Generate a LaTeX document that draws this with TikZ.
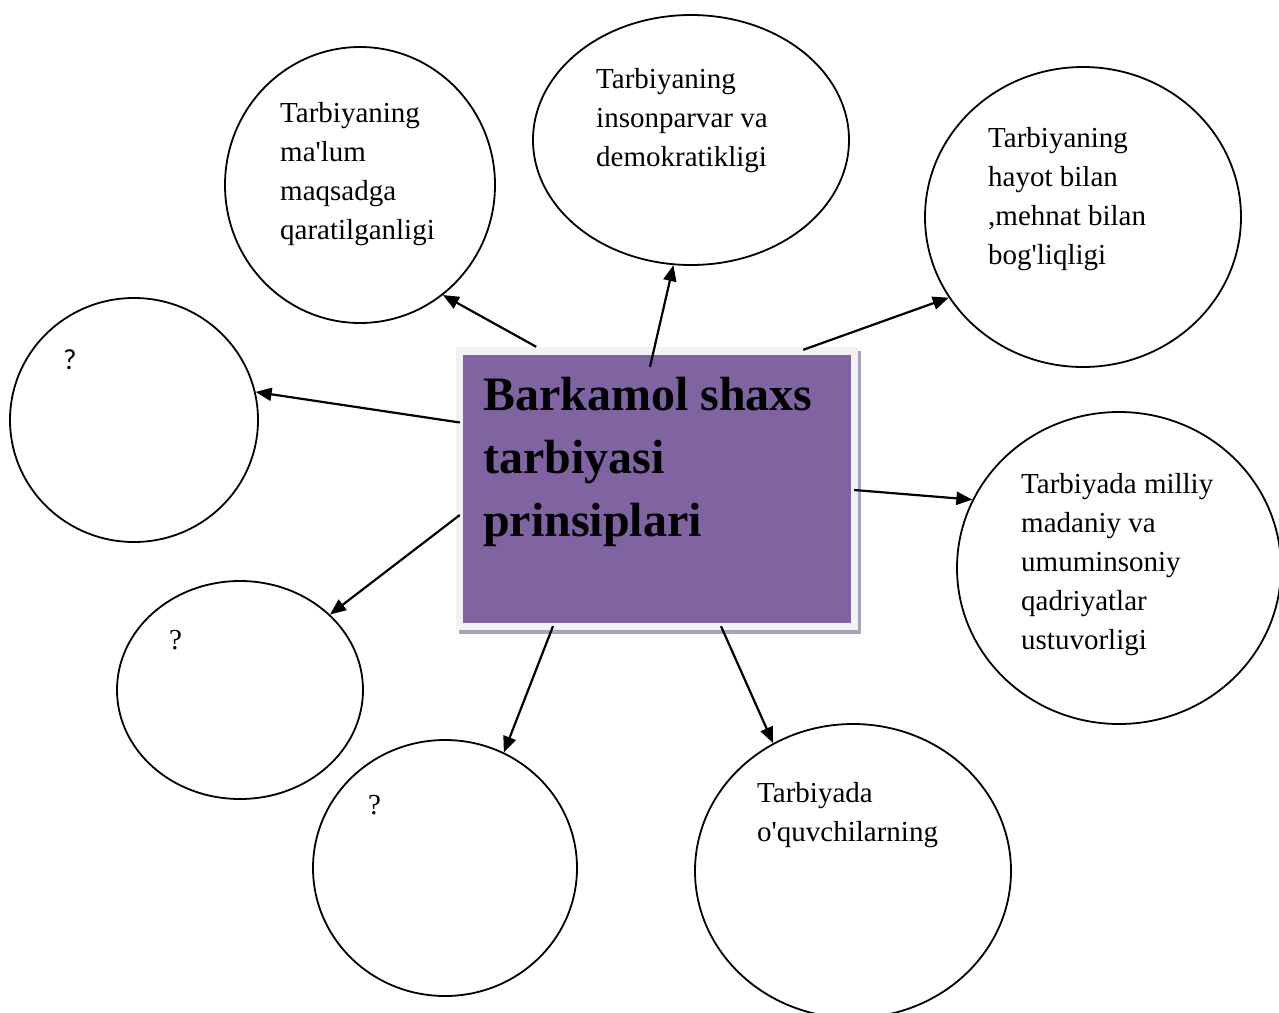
\documentclass[tikz,border=0pt]{standalone}
\usepackage{fontspec}
\setmainfont{Liberation Serif}
\newfontfamily\qfont{Carlito}
\usetikzlibrary{shapes.geometric,arrows.meta,shadows,calc}
\definecolor{panelpurple}{HTML}{8064A2}
\definecolor{framegray}{HTML}{F2F2F2}
\definecolor{shadowgray}{HTML}{ABA3BC}
\begin{document}
\begin{tikzpicture}[x=1pt,y=-1pt,
  bubble/.style={ellipse, draw, line width=1.8pt, inner sep=0pt},
  bubbletext/.style={anchor=base west, align=left, inner sep=0pt, font=\fontsize{29}{39}\selectfont},
  arr/.style={line width=2.2pt, -{Triangle[length=16pt,width=13pt]}}]

  \useasboundingbox (0,0) rectangle (1279,1012);

  \node[fill=framegray, minimum width=402pt, minimum height=283pt, inner sep=0pt,
    drop shadow={shadow xshift=3pt, shadow yshift=-4pt, fill=shadowgray, opacity=1}] (frame) at (657,488.5) {};
  \node[fill=panelpurple, minimum width=388pt, minimum height=268pt, inner sep=0pt] (box) at (657,489) {};
  \node[anchor=base west, align=left, inner sep=0pt, font=\bfseries\fontsize{48}{63}\selectfont] (title) at (483,536)
    {Barkamol shaxs\\tarbiyasi\\prinsiplari};

  \node[bubble, minimum width=270pt, minimum height=276pt] (e1) at (360,185) {};
  \node[bubble, minimum width=316pt, minimum height=250pt] (e2) at (691,140) {};
  \node[bubble, minimum width=316pt, minimum height=300pt] (e3) at (1083,217) {};
  \node[bubble, minimum width=248pt, minimum height=244pt] (e4) at (134,420) {};
  \node[bubble, minimum width=324pt, minimum height=312pt] (e5) at (1119,568) {};
  \node[bubble, minimum width=246pt, minimum height=218pt] (e6) at (240,690) {};
  \node[bubble, minimum width=264pt, minimum height=256pt] (e7) at (445,868) {};
  \node[bubble, minimum width=316pt, minimum height=294pt] (e8) at (853,871) {};

  % base anchor sits on the last line
  \node[bubbletext] (t1) at (280,239) {Tarbiyaning\\ma\textquotesingle lum\\maqsadga\\qaratilganligi};
  \node[bubbletext] (t2) at (596,166) {Tarbiyaning\\insonparvar va\\demokratikligi};
  \node[bubbletext] (t3) at (988,264) {Tarbiyaning\\hayot bilan\\,mehnat bilan\\bog\textquotesingle liqligi};
  \node[bubbletext] (t4) at (63,369) {\qfont ?};
  \node[bubbletext] (t5) at (1021,649) {Tarbiyada milliy\\madaniy va\\umuminsoniy\\qadriyatlar\\ustuvorligi};
  \node[bubbletext] (t6) at (169,649) {?};
  \node[bubbletext] (t7) at (368,814) {?};
  \node[bubbletext] (t8) at (757,841) {Tarbiyada\\o\textquotesingle quvchilarning};

  \draw[arr] ($(frame.north west)!.2!(frame.north east)$) -- (e1.-53);
  \draw[arr] ($(frame.north)+(-7,20)$) -- (e2.-98);
  \draw[arr] ($(frame.north east)+(-55,3)$) -- (e3.-149);
  \draw[arr] ($(frame.west)+(4,-66)$) -- (e4.13);
  \draw[arr] ($(frame.east)+(-4,1.5)$) -- (e5.155);
  \draw[arr] ($(frame.west)+(4,26.5)$) -- (e6.40);
  \draw[arr] ($(frame.south)+(-104,-4)$) -- (e7.63);
  \draw[arr] ($(frame.south)+(64,-4)$) -- (e8.122);
\end{tikzpicture}
\end{document}
